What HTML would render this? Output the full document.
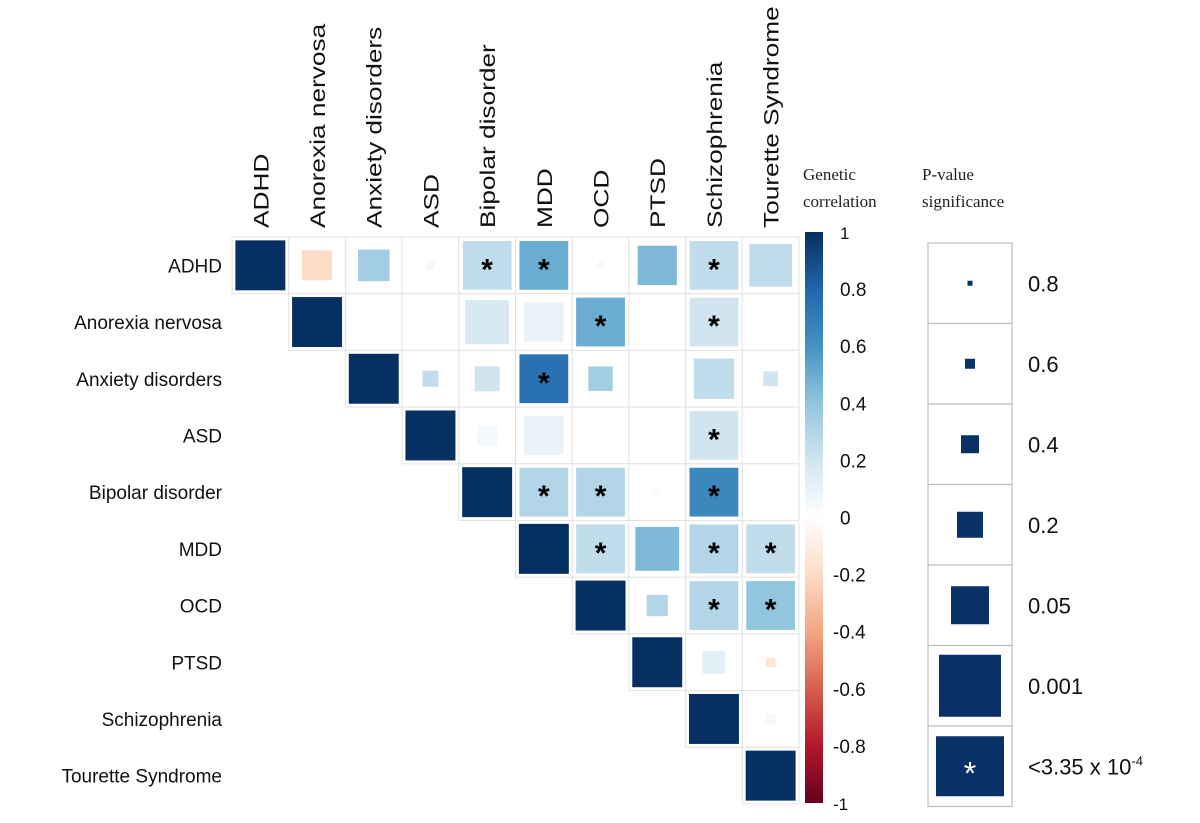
<!DOCTYPE html>
<html><head><meta charset="utf-8"><style>
html,body{margin:0;padding:0;background:#fff;}
svg{display:block;}
</style></head><body>
<svg id="chart" width="1200" height="823" viewBox="0 0 1200 823" xmlns="http://www.w3.org/2000/svg">
<defs>
<linearGradient id="cbar" x1="0" y1="1" x2="0" y2="0">
<stop offset="0" stop-color="#67001f"/><stop offset="0.1" stop-color="#b2182b"/><stop offset="0.2" stop-color="#d6604d"/><stop offset="0.3" stop-color="#f4a582"/><stop offset="0.4" stop-color="#fddbc7"/><stop offset="0.5" stop-color="#ffffff"/><stop offset="0.6" stop-color="#d1e5f0"/><stop offset="0.7" stop-color="#92c5de"/><stop offset="0.8" stop-color="#4393c3"/><stop offset="0.9" stop-color="#2166ac"/><stop offset="1" stop-color="#053061"/>
</linearGradient>
</defs>
<g id="grid"></g>
<g id="labels"></g>
<rect x="805" y="232" width="18" height="571" fill="url(#cbar)"/>
<g id="cbticks"></g>
<text x="803" y="180" font-family="Liberation Serif, serif" font-size="17" fill="#222"><tspan x="803">Genetic</tspan><tspan x="803" dy="27">correlation</tspan></text>
<text x="922" y="180" font-family="Liberation Serif, serif" font-size="17" fill="#222"><tspan x="922">P-value</tspan><tspan x="922" dy="27">significance</tspan></text>
<g id="plegend"></g>
</svg>
<script>
const names = ["ADHD","Anorexia nervosa","Anxiety disorders","ASD","Bipolar disorder","MDD","OCD","PTSD","Schizophrenia","Tourette Syndrome"];
// upper-triangle correlations, row by row (row i: cols i+1..9)
const corrRows = [
 [-0.2,0.35,0.05,0.25,0.5,-0.05,0.45,0.25,0.25],
 [0.02,0.0,0.18,0.1,0.5,0.0,0.2,0.0],
 [0.25,0.2,0.75,0.35,0.0,0.25,0.2],
 [0.05,0.1,0.0,0.0,0.2,0.0],
 [0.3,0.3,0.02,0.65,0.0],
 [0.25,0.45,0.3,0.25],
 [0.3,0.3,0.4],
 [0.12,-0.15],
 [0.05]
];
const pRows = [
 [0.15,0.13,0.65,0.0002,0.0002,0.72,0.04,0.0002,0.01],
 [0.9,0.93,0.003,0.04,0.0002,0.95,0.0002,0.9],
 [0.45,0.22,0.0002,0.24,0.95,0.03,0.48],
 [0.35,0.04,0.98,0.98,0.0002,0.9],
 [0.0002,0.0002,0.7,0.0002,0.93],
 [0.0002,0.003,0.0002,0.0002],
 [0.32,0.0002,0.0002],
 [0.28,0.62],
 [0.58]
];
const starThreshold = 3.35e-4;
const cbTicks = [1,0.8,0.6,0.4,0.2,0,-0.2,-0.4,-0.6,-0.8,-1];
const legendP = ["0.8","0.6","0.4","0.2","0.05","0.001"];

const NS="http://www.w3.org/2000/svg";
const X0=232,Y0=237,C=56.7;
const stops=[[-1,[103,0,31]],[-0.8,[178,24,43]],[-0.6,[214,96,77]],[-0.4,[244,165,130]],[-0.2,[253,219,199]],[0,[255,255,255]],[0.2,[209,229,240]],[0.4,[146,197,222]],[0.6,[67,147,195]],[0.8,[33,102,172]],[1,[5,48,97]]];
function color(v){for(let i=0;i<stops.length-1;i++){const a=stops[i],b=stops[i+1];if(v<=b[0]){const t=(v-a[0])/(b[0]-a[0]);const c=a[1].map((x,k)=>Math.round(x+(b[1][k]-x)*t));return `rgb(${c})`;}}return "rgb(5,48,97)";}
const pb=[0,0.001,0.05,0.2,0.4,0.6,0.8,1], sb=[50,44,38,26,18,10,5,0];
function side(p){for(let i=0;i<pb.length-1;i++){if(p<=pb[i+1]){const t=(p-pb[i])/(pb[i+1]-pb[i]);return sb[i]+(sb[i+1]-sb[i])*t;}}return 0;}
function mk(tag,attrs,parent){const e=document.createElementNS(NS,tag);for(const k in attrs)e.setAttribute(k,attrs[k]);parent.appendChild(e);return e;}
const grid=document.getElementById('grid'),labels=document.getElementById('labels');
function cell(r,c,v,p){
 const cx=X0+c*C,cy=Y0+r*C;
 const bg=mk('rect',{x:cx,y:cy,width:C,height:C,fill:'#fff',stroke:'#e3e3e3','stroke-width':1},grid);
 
 
 const s=side(p);
 const sq=mk('rect',{x:cx+(C-s)/2,y:cy+(C-s)/2,width:s,height:s,fill:color(v)},grid);
 
 
 if(p<starThreshold && r!==c){
  const st=mk('text',{x:cx+C/2,y:cy+C/2+14,'text-anchor':'middle','font-family':'Liberation Sans, sans-serif','font-size':30,'font-weight':'bold',fill:'#000'},grid);
  st.textContent='*';
  
  
 }
}
for(let i=0;i<10;i++){
 cell(i,i,1,0.00001);
 (corrRows[i]||[]).forEach((v,k)=>cell(i,i+1+k,v,pRows[i][k]));
}
names.forEach((n,i)=>{
 const t=mk('text',{x:222,y:Y0+i*C+C/2+7,'text-anchor':'end','font-family':'Liberation Sans, sans-serif','font-size':19,fill:'#111'},labels);
 t.textContent=n;
 
 
 const cx=X0+i*C+C/2+8;
 const u=mk('text',{x:cx,y:228,transform:`rotate(-90 ${cx} 228)`,'font-family':'Liberation Sans, sans-serif','font-size':21,'textLength':'',fill:'#111'},labels);
 u.removeAttribute('textLength');
 u.setAttribute('transform',`rotate(-90 ${cx} 228) scale(1.22 1)`);
 u.setAttribute('x',cx/1.22);
 u.setAttribute('transform',`rotate(-90 ${cx} 228) translate(${cx} 228) scale(1.25 1) translate(${-cx} -228)`);
 u.setAttribute('x',cx);
 u.textContent=n;
 
 
});
const cbt=document.getElementById('cbticks');
cbTicks.forEach(v=>{
 const y=232+(1-v)/2*571;
 const t=mk('text',{x:v<0?833:840,y:y+7,'font-family':'Liberation Sans, sans-serif','font-size':v===1||v===-1?17:19,fill:'#111'},cbt);
 t.textContent=String(v);
 
 
});
const pl=document.getElementById('plegend');
const LY=243,LH=80.5,LX=928,LW=84;
const legendSides=[5,10,18,26,38,62];
legendP.concat(["star"]).forEach((lab,i)=>{
 const y=LY+i*LH;
 const b=mk('rect',{x:LX,y:y,width:LW,height:LH,fill:'#fff',stroke:'#bdbdbd','stroke-width':1.2},pl);
 
 
 let w,h;
 if(lab==="star"){w=68;h=60;}else{w=h=legendSides[i];}
 const s=mk('rect',{x:LX+(LW-w)/2,y:y+(LH-h)/2,width:w,height:h,fill:'#0a3068'},pl);
 
 
 const t=mk('text',{x:1028,y:y+LH/2+8,'font-family':'Liberation Sans, sans-serif','font-size':22,fill:'#111'},pl);
 if(lab==="star"){
  t.innerHTML='&lt;3.35 x 10<tspan dy="-9" font-size="13">-4</tspan>';
  const st=mk('text',{x:LX+LW/2,y:y+LH/2+18,'text-anchor':'middle','font-family':'Liberation Sans, sans-serif','font-size':32,fill:'#fff'},pl);
  st.textContent='*';
  
  
 } else t.textContent=lab;
 
 
});
</script>
</body></html>
